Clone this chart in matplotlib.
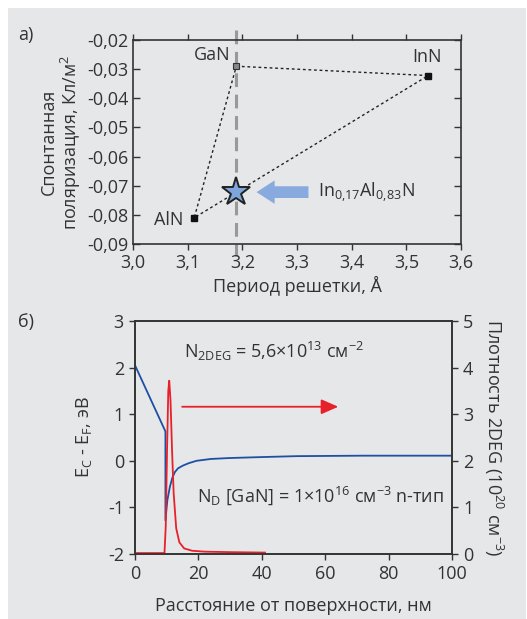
import numpy as np
import matplotlib
matplotlib.use("Agg")
import matplotlib.pyplot as plt
from matplotlib.patches import Rectangle

plt.rcParams['font.family'] = ['Open Sans', 'DejaVu Sans']
plt.rcParams['font.size'] = 13
plt.rcParams['mathtext.fontset'] = 'custom'
plt.rcParams['mathtext.rm'] = 'Open Sans'
plt.rcParams['mathtext.it'] = 'Open Sans'
plt.rcParams['mathtext.default'] = 'regular'

# --- panel a: spontaneous polarisation vs lattice period
names = ["GaN", "InN", "AlN"]
a_lat = [3.189, 3.540, 3.112]
p_sp = [-0.029, -0.0322, -0.081]
star_a = 3.189
star_p = -0.0722

xt_a = [3.0, 3.1, 3.2, 3.3, 3.4, 3.5, 3.6]
xl_a = ["3,0", "3,1", "3,2", "3,3", "3,4", "3,5", "3,6"]
yt_a = [-0.02, -0.03, -0.04, -0.05, -0.06, -0.07, -0.08, -0.09]
yl_a = ["-0,02", "-0,03", "-0,04", "-0,05", "-0,06", "-0,07", "-0,08", "-0,09"]

# --- panel b: band edge and 2DEG density
x_band = [0, 9.6, 9.6, 10.2, 11.0, 11.8, 12.6, 13.6, 15.2, 17.0, 19.4, 24, 30, 40, 51, 72, 100]
e_band = [2.05, 0.63, -1.28, -0.85, -0.56, -0.36, -0.24, -0.16, -0.1, -0.05, 0.0, 0.04, 0.06, 0.08, 0.1, 0.11, 0.11]
x_dens = [0, 9.3, 9.7, 10.1, 10.5, 10.8, 11.2, 11.7, 12.2, 13.0, 14.0, 15.5, 18, 22, 30, 41]
n_dens = [0.02, 0.02, 0.6, 2.2, 3.5, 3.72, 3.3, 2.2, 1.3, 0.55, 0.25, 0.12, 0.07, 0.05, 0.04, 0.03]

bg = '#e6e7e8'
spc = '#333333'
tc = '#333333'

fig = plt.figure(figsize=(5.27, 6.19), dpi=100)
fig.patch.set_facecolor('white')
fig.patches.append(Rectangle((8/527, 0), 518/527, 611/619, transform=fig.transFigure,
                             facecolor=bg, edgecolor='none', zorder=-10))

# ---------------- а)
ax = fig.add_axes([133/527, 1-244/619, 328/527, 204/619])
ax.set_facecolor('none')
ax.set_xlim(3.0, 3.6)
ax.set_ylim(-0.09, -0.02)

ax.plot([a_lat[0], a_lat[1], a_lat[2], a_lat[0]], [p_sp[0], p_sp[1], p_sp[2], p_sp[0]],
        linestyle=(0, (2, 2)), color='#222222', lw=1.0)
ax.plot(a_lat[1:], p_sp[1:], 's', color='#111111', ms=4.5)
ax.plot(a_lat[0], p_sp[0], 's', mfc='#888888', mec='#333333', ms=4.5, mew=0.8)
ax.plot([star_a, star_a], [-0.0165, -0.094], color='#999999', lw=2.2,
        linestyle=(0, (4.5, 2.5)), clip_on=False, zorder=1)
ax.plot(star_a, star_p, marker='*', ms=21, mfc='#7ea6da', mec='#222222', mew=1.4, zorder=5)
ax.annotate("", xy=(3.221, star_p), xytext=(3.326, star_p),
            arrowprops=dict(arrowstyle='simple,head_length=1.0,head_width=1.3,tail_width=0.65',
                            color='#88aade', lw=0))

ax.text(3.178, -0.0252, names[0], ha='right', va='center', color=tc)
ax.text(3.537, -0.0258, names[1], ha='center', va='center', color=tc)
ax.text(3.093, -0.0818, names[2], ha='right', va='center', color=tc)
ax.text(3.338, -0.0722, r"In$_{0{,}17}$Al$_{0{,}83}$N", ha='left', va='center', color=tc)

ax.set_xticks(xt_a, xl_a)
ax.set_yticks(yt_a, yl_a)
ax.tick_params(axis='x', direction='out', top=True, length=4, width=1, color=spc, labelcolor=tc, pad=3)
ax.tick_params(axis='y', direction='in', right=True, length=5, width=1, color=spc, labelcolor=tc, pad=3)
for s in ax.spines.values():
    s.set_color(spc)
    s.set_linewidth(1.2)
ax.set_xlabel("Период решетки, Å", color=tc, labelpad=3)
ax.set_ylabel("Спонтанная\nполяризация, Кл/м$^2$", color=tc, labelpad=3, linespacing=1.05)
fig.text(18/527, 1-35/619, "а)", ha='left', va='center', color=tc)

# ---------------- б)
bx = fig.add_axes([135/527, 1-554/619, 317/527, 233/619])
bx.set_facecolor('none')
bx.set_xlim(0, 100)
bx.set_ylim(-2, 3)
bx.plot(x_band, e_band, color='#1d4fa3', lw=1.3, zorder=3)
bx.set_xticks([0, 20, 40, 60, 80, 100])
bx.set_yticks([-2, -1, 0, 1, 2, 3], ["-2", "-1", "0", "1", "2", "3"])
bx.tick_params(direction='out', length=4, width=1, color=spc, labelcolor=tc, pad=4)
bx.set_xlabel("Расстояние от поверхности, нм", color=tc, labelpad=10)
bx.set_ylabel("E$_C$ - E$_F$, эВ", color=tc, labelpad=10)
for s in bx.spines.values():
    s.set_color(spc)
    s.set_linewidth(1.2)

bx.annotate("", xy=(65, 1.16), xytext=(14, 1.16),
            arrowprops=dict(arrowstyle='-|>,head_length=0.8,head_width=0.35', color='#e8202a', lw=1.3))
bx.text(15.6, 2.34, "N$_{2DEG}$ = 5,6×10$^{13}$ см$^{-2}$", ha='left', va='center', color=tc)
bx.text(19.5, -0.74, "N$_D$ [GaN] = 1×10$^{16}$ см$^{-3}$ n-тип", ha='left', va='center', color=tc)

rx = bx.twinx()
rx.set_ylim(0, 5)
rx.plot(x_dens, n_dens, color='#e8202a', lw=1.3, zorder=2)
rx.set_yticks([0, 1, 2, 3, 4, 5])
rx.tick_params(direction='out', length=4, width=1, color=spc, labelcolor=tc, pad=4)
for s in rx.spines.values():
    s.set_color(spc)
    s.set_linewidth(1.2)
rx.set_ylabel("Плотность 2DEG (10$^{20}$ см$^{-3}$)", rotation=-90, va='bottom',
              color=tc, labelpad=6)
fig.text(18/527, 1-322/619, "б)", ha='left', va='center', color=tc)

fig.savefig("out.png", dpi=100, facecolor=fig.get_facecolor())
